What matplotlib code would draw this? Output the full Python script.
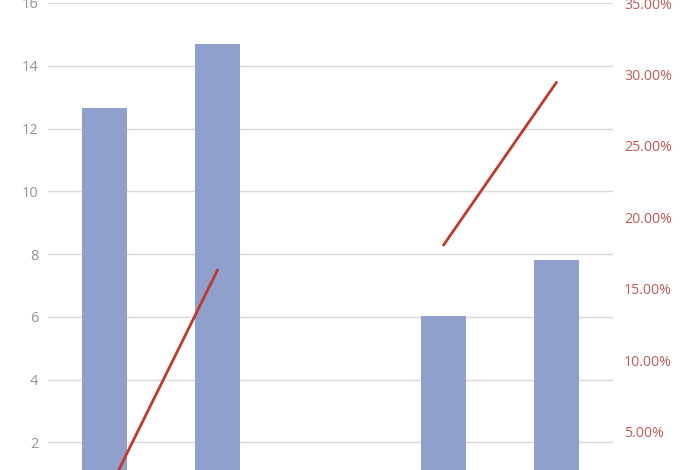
import matplotlib
matplotlib.use('Agg')
import matplotlib.pyplot as plt
import numpy as np

plt.rcParams['font.family'] = ['Open Sans', 'DejaVu Sans']

# values (middle category has no data)
categories = ['A', 'B', 'C', 'D', 'E']
bar_values = [12.65, 14.7, np.nan, 6.02, 7.8]
line_values = [0.3, 16.3, np.nan, 18.05, 29.45]   # percent
left_ticks = [2, 4, 6, 8, 10, 12, 14, 16]
right_ticks = [5, 10, 15, 20, 25, 30, 35]

fig = plt.figure(figsize=(7, 4.7), dpi=100)
# the source image is cropped at the bottom, so the axes run off the figure
ax = fig.add_axes([48 / 700, -35 / 470, 565 / 700, 502 / 470])

x = np.arange(len(categories))
ax.bar(x, bar_values, width=0.4, color='#8fa0cc', zorder=2)
ax.set_xlim(-0.5, len(categories) - 0.5)
ax.set_ylim(0, 16)
ax.set_yticks(left_ticks)
ax.set_yticklabels([str(t) for t in left_ticks])
ax.grid(axis='y', color='#d9d9d9', linewidth=1, zorder=0)
ax.set_axisbelow(True)
ax.tick_params(axis='y', length=0, pad=7, labelsize=10.5, labelcolor='#959595')
ax.tick_params(axis='x', length=0, labelbottom=False)
for s in ax.spines.values():
    s.set_visible(False)

ax2 = ax.twinx()
ax2.plot(x, line_values, color='#c0392b', linewidth=2, solid_capstyle='round', zorder=3)
ax2.set_ylim(-0.14, 35)
ax2.set_yticks(right_ticks)
ax2.set_yticklabels([f'{t:.2f}%' for t in right_ticks])
ax2.tick_params(axis='y', length=0, pad=8, labelsize=10.2, labelcolor='#c25a55')
for s in ax2.spines.values():
    s.set_visible(False)

fig.savefig('out.png', dpi=100)
plt.close(fig)
